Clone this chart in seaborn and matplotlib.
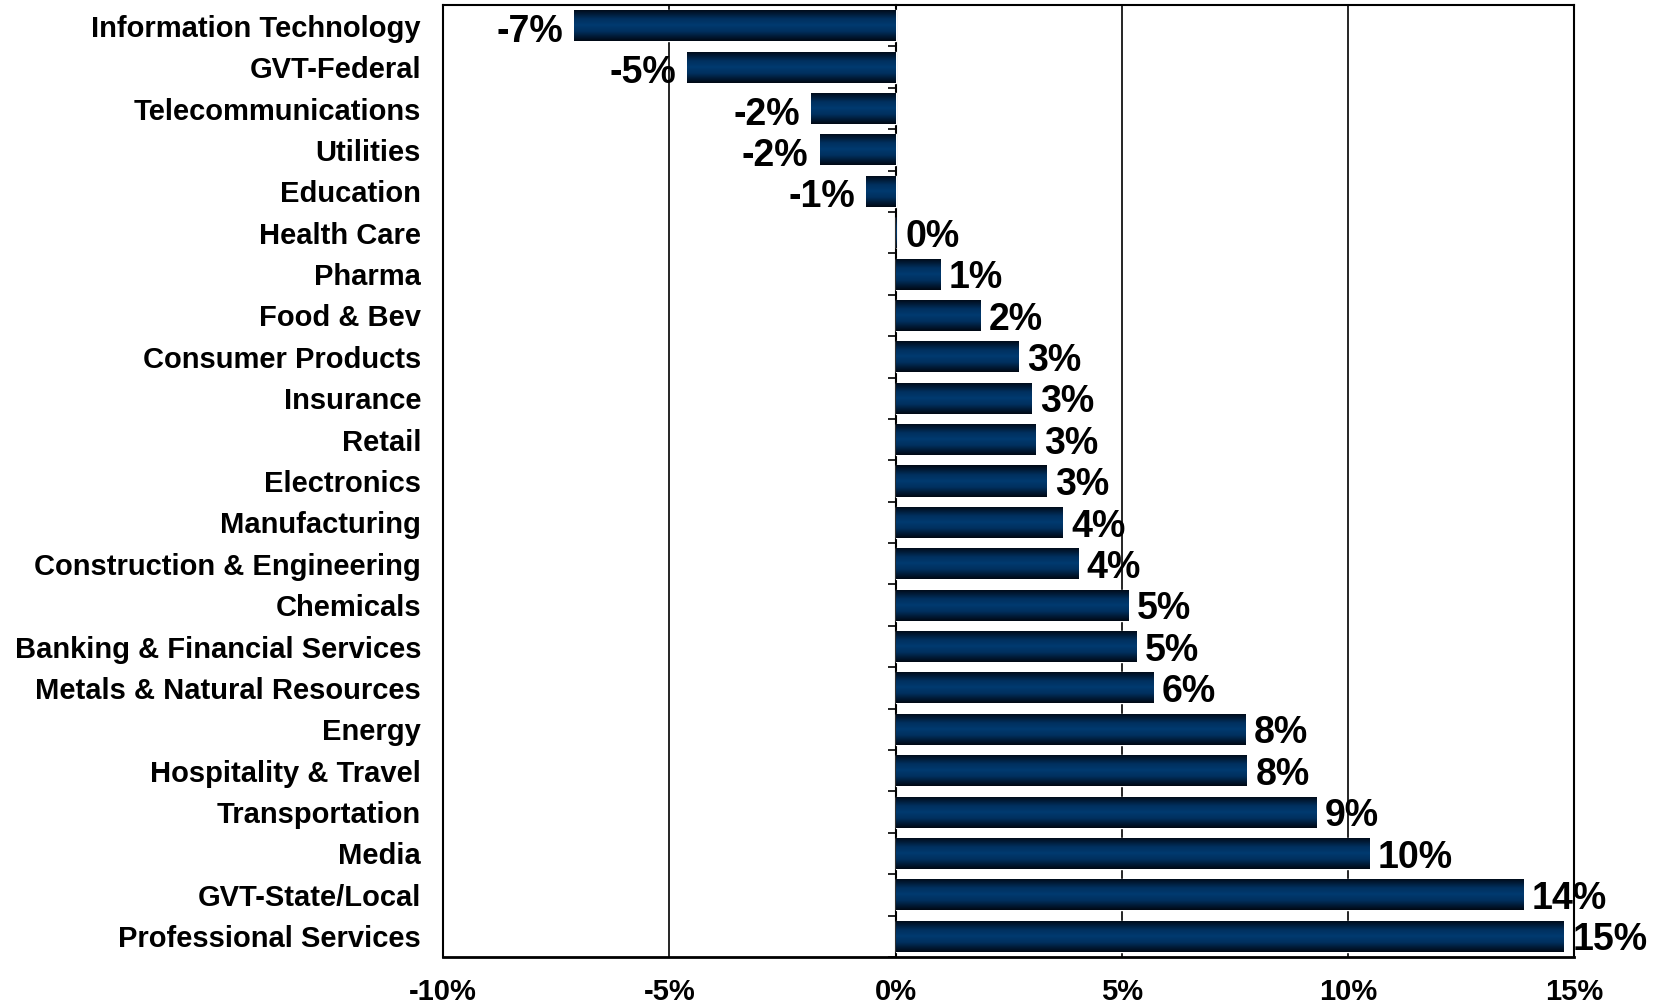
import matplotlib
matplotlib.use("Agg")
import matplotlib.pyplot as plt
import matplotlib.font_manager as fm
from matplotlib.colors import LinearSegmentedColormap
import seaborn as sns
import numpy as np
import pandas as pd

sectors = ["Information Technology", "GVT-Federal", "Telecommunications", "Utilities",
           "Education", "Health Care", "Pharma", "Food & Bev", "Consumer Products",
           "Insurance", "Retail", "Electronics", "Manufacturing",
           "Construction & Engineering", "Chemicals", "Banking & Financial Services",
           "Metals & Natural Resources", "Energy", "Hospitality & Travel",
           "Transportation", "Media", "GVT-State/Local", "Professional Services"]
growth = [-7.1, -4.6, -1.86, -1.68, -0.65, 0.02, 0.98, 1.86, 2.70, 3.0, 3.08, 3.33,
          3.68, 4.03, 5.13, 5.31, 5.69, 7.72, 7.76, 9.30, 10.47, 13.87, 14.76]
xticks = [-10, -5, 0, 5, 10, 15]

df = pd.DataFrame({"sector": sectors, "growth": growth})

sns.set_style("white")
names = {f.name for f in fm.fontManager.ttflist}
base = "Liberation Sans" if "Liberation Sans" in names else "DejaVu Sans"
narrow = "Liberation Sans Narrow" if "Liberation Sans Narrow" in names else base
plt.rcParams["font.family"] = [base, "DejaVu Sans"]
plt.rcParams["text.color"] = "black"
plt.rcParams["xtick.color"] = "black"
plt.rcParams["ytick.color"] = "black"

fig = plt.figure(figsize=(16.54, 10.07), dpi=100)
ax = fig.add_axes([0.268, 0.0497, 0.6836, 0.9453])

sns.barplot(data=df, x="growth", y="sector", orient="h", color="#003366",
            width=0.75, ax=ax, zorder=3)

# gradient fill on each bar
cmap = LinearSegmentedColormap.from_list(
    "bar", [(0, "#000814"), (0.3, "#00305e"), (0.5, "#003a70"), (0.7, "#00305e"), (1, "#000814")])
grad = np.linspace(0, 1, 64).reshape(-1, 1)
for p in ax.patches:
    x0, y0 = p.get_x(), p.get_y()
    w, h = p.get_width(), p.get_height()
    if abs(w) < 1e-6:
        continue
    im = ax.imshow(grad, cmap=cmap, aspect="auto", zorder=4,
                   extent=[x0, x0 + w, y0 + h, y0], interpolation="bilinear")
    im.set_clip_path(p)

ax.set_xlim(-10, 15)
ax.set_ylim(len(sectors) - 0.5, -0.5)
ax.set_xticks(xticks)
ax.set_xticklabels([f"{t}%" for t in xticks], fontsize=21, fontweight="bold", color="black")
ax.tick_params(axis="x", direction="out", length=8, width=1.5, pad=7, color="black")
ax.tick_params(axis="y", length=0, pad=16)
for lbl in ax.get_yticklabels():
    lbl.set_fontsize(21)
    lbl.set_fontweight("bold")
    lbl.set_color("black")
ax.set_xlabel("")
ax.set_ylabel("")

for s in ax.spines.values():
    s.set_color("black")
    s.set_linewidth(1.5)
ax.spines["bottom"].set_linewidth(2)

for t in [-5, 5, 10]:
    ax.axvline(t, color="black", lw=1.2, zorder=1)

# vertical axis at zero with ticks between categories
sec = ax.secondary_yaxis(0.4)
sec.set_yticks(np.arange(len(sectors) + 1) - 0.5)
sec.set_yticklabels([])
sec.tick_params(length=6, width=1.2, direction="out", color="black")
sec.spines["left"].set_linewidth(1.5)
sec.spines["left"].set_color("black")

for i, v in enumerate(growth):
    txt = f"{round(v):d}%"
    if v < 0:
        ax.text(v - 0.25, i + 0.15, txt, ha="right", va="center", fontsize=27,
                fontweight="bold", family=[narrow, base], color="black", zorder=5)
    else:
        ax.text(v + 0.2, i + 0.1, txt, ha="left", va="center", fontsize=27,
                fontweight="bold", family=[narrow, base], color="black", zorder=5)

fig.savefig("out.png", dpi=100)
